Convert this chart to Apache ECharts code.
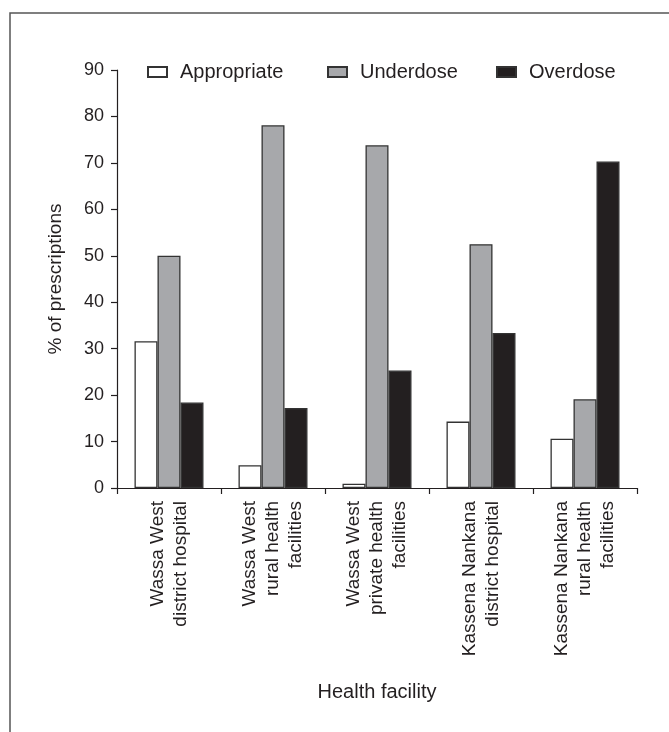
<!DOCTYPE html>
<html>
<head>
<meta charset="utf-8">
<script src="https://cdn.jsdelivr.net/npm/echarts@6/dist/echarts.min.js"></script>
<style>html,body{margin:0;padding:0;background:#fff}#c{width:669px;height:732px}</style>
</head>
<body>
<div id="c"></div>
<script>
const categories = [
  'Wassa West\ndistrict hospital',
  'Wassa West\nrural health\nfacilities',
  'Wassa West\nprivate health\nfacilities',
  'Kassena Nankana\ndistrict hospital',
  'Kassena Nankana\nrural health\nfacilities'
];
const appropriate = [31.6, 4.9, 0.9, 14.3, 10.6];
const underdose = [50.0, 78.1, 73.8, 52.5, 19.1];
const overdose = [18.4, 17.2, 25.3, 33.4, 70.3];
const yTicks = [0, 10, 20, 30, 40, 50, 60, 70, 80, 90];

const FONT = 'Liberation Sans, Arial, sans-serif';
const TXT = '#231f20';
const chart = echarts.init(document.getElementById('c'));
const legendBase = {
  top: 57, itemWidth: 19, itemHeight: 10, orient: 'horizontal', icon: 'rect',
  textStyle: { fontFamily: FONT, fontSize: 20, color: TXT, padding: [0, 0, 0, 8] },
  selectedMode: false
};
chart.setOption({
  animation: false,
  backgroundColor: '#fff',
  graphic: [{
    type: 'rect', shape: { x: 10, y: 13, width: 720, height: 800 },
    style: { fill: 'none', stroke: '#555', lineWidth: 1.5 }, silent: true
  }],
  legend: [
    Object.assign({}, legendBase, { left: 142, data: ['Appropriate'] }),
    Object.assign({}, legendBase, { left: 322, data: ['Underdose'] }),
    Object.assign({}, legendBase, { left: 491, data: ['Overdose'] })
  ],
  grid: { left: 117, right: 32, top: 70, bottom: 244, containLabel: false },
  xAxis: {
    type: 'category', data: categories,
    name: 'Health facility', nameLocation: 'middle', nameGap: 204, nameMoveOverlap: false,
    nameTextStyle: { fontFamily: FONT, fontSize: 20, color: TXT, verticalAlign: 'middle' },
    axisLine: { lineStyle: { color: TXT, width: 1.2 } },
    axisTick: { show: true, length: 6, lineStyle: { color: TXT, width: 1.2 } },
    axisLabel: { rotate: 90, margin: 13, interval: 0, fontFamily: FONT, fontSize: 19, color: TXT, lineHeight: 23, align: 'right' }
  },
  yAxis: {
    type: 'value', min: 0, max: 90, interval: 10,
    name: '% of prescriptions', nameLocation: 'middle', nameGap: 61, nameMoveOverlap: false,
    nameTextStyle: { fontFamily: FONT, fontSize: 19, color: TXT, verticalAlign: 'middle' },
    axisLine: { show: true, lineStyle: { color: TXT, width: 1.2 } },
    axisTick: { show: true, length: 6, lineStyle: { color: TXT, width: 1.2 } },
    splitLine: { show: false },
    axisLabel: { margin: 13, fontFamily: FONT, fontSize: 18, color: TXT,
      formatter: v => yTicks.includes(v) ? String(v) : '' }
  },
  series: [
    { name: 'Appropriate', type: 'bar', data: appropriate, barWidth: 23, barGap: '0%',
      itemStyle: { color: '#ffffff', borderColor: '#333', borderWidth: 1.3 } },
    { name: 'Underdose', type: 'bar', data: underdose, barWidth: 23, barGap: '0%',
      itemStyle: { color: '#a7a8ab', borderColor: '#333', borderWidth: 1.3 } },
    { name: 'Overdose', type: 'bar', data: overdose, barWidth: 23, barGap: '0%',
      itemStyle: { color: '#231f20', borderColor: '#333', borderWidth: 1.3 } }
  ]
});
</script>
</body>
</html>
